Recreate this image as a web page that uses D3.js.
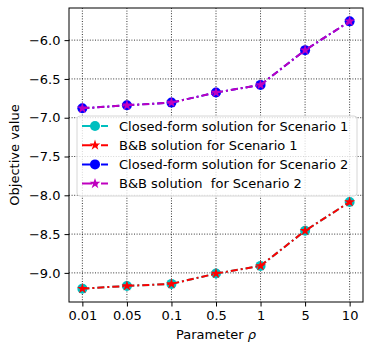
<!DOCTYPE html>
<html lang="en">
<head>
<meta charset="UTF-8">
<title>Objective value vs parameter</title>
<script src="https://d3js.org/d3.v7.min.js"></script>
<style>
  body { margin: 0; background: #fff; }
  text { font-family: "DejaVu Sans", sans-serif; white-space: pre; }
</style>
</head>
<body>
<div id="chart"></div>
<script>
// data
var rhoLabels = ["0.01", "0.05", "0.1", "0.5", "1", "5", "10"];
var scenario1 = [-9.203, -9.168, -9.142, -9.009, -8.91, -8.457, -8.086];
var scenario2 = [-6.879, -6.84, -6.805, -6.676, -6.577, -6.129, -5.758];
var yTicks = [-9.0, -8.5, -8.0, -7.5, -7.0, -6.5, -6.0];

var series = [
  {name: "Closed-form solution for Scenario 1", values: scenario1, color: "#00bfbf", marker: "circle"},
  {name: "B&B solution for Scenario 1", values: scenario1, color: "#ff0000", marker: "star"},
  {name: "Closed-form solution for Scenario 2", values: scenario2, color: "#0000ff", marker: "circle"},
  {name: "B&B solution  for Scenario 2", values: scenario2, color: "#bf00bf", marker: "star"}
];

var width = 373, height = 354;
var plotL = 69, plotR = 363, plotT = 8, plotB = 302;

var svg = d3.select("#chart").append("svg")
    .attr("width", width)
    .attr("height", height);

var x = d3.scaleLinear().domain([-0.3, 6.3]).range([plotL, plotR]);
var allVals = scenario1.concat(scenario2);
var ymin = d3.min(allVals), ymax = d3.max(allVals), pad = (ymax - ymin) * 0.05;
var y = d3.scaleLinear().domain([ymin - pad, ymax + pad]).range([plotB, plotT]);

// grid
var grid = svg.append("g").attr("stroke", "#000").attr("stroke-width", 0.8)
    .attr("stroke-dasharray", "1,1.6");
grid.selectAll("line.v").data(rhoLabels).enter().append("line")
    .attr("x1", function(d, i) { return x(i); })
    .attr("x2", function(d, i) { return x(i); })
    .attr("y1", plotT).attr("y2", plotB);
grid.selectAll("line.h").data(yTicks).enter().append("line")
    .attr("y1", function(d) { return y(d); })
    .attr("y2", function(d) { return y(d); })
    .attr("x1", plotL).attr("x2", plotR);

// axes
var xAxis = d3.axisBottom(x).tickValues(d3.range(rhoLabels.length))
    .tickFormat(function(i) { return rhoLabels[i]; })
    .tickSize(4.5).tickPadding(4);
var yAxis = d3.axisLeft(y).tickValues(yTicks)
    .tickFormat(function(d) { return d3.format(".1f")(d).replace("-", "\u2212"); })
    .tickSize(4.5).tickPadding(4);

var gx = svg.append("g").attr("transform", "translate(0," + plotB + ")").call(xAxis);
var gy = svg.append("g").attr("transform", "translate(" + plotL + ",0)").call(yAxis);
[gx, gy].forEach(function(g) {
  g.select(".domain").remove();
  g.selectAll(".tick line").attr("stroke", "#000").attr("stroke-width", 1);
  g.selectAll(".tick text").attr("font-size", 13).attr("fill", "#000")
    .attr("font-family", "DejaVu Sans, sans-serif");
});

// lines and markers
var line = d3.line()
    .x(function(d, i) { return x(i); })
    .y(function(d) { return y(d); });

var starSym = d3.symbol().type(d3.symbolStar).size(36);

function drawMarker(g, s, cx, cy) {
  if (s.marker === "circle") {
    g.append("circle").attr("cx", cx).attr("cy", cy).attr("r", 5)
      .attr("fill", s.color);
  } else {
    g.append("path").attr("d", starSym())
      .attr("transform", "translate(" + cx + "," + cy + ")")
      .attr("fill", s.color);
  }
}

series.forEach(function(s) {
  var g = svg.append("g");
  g.append("path").datum(s.values)
    .attr("d", line)
    .attr("fill", "none")
    .attr("stroke", s.color)
    .attr("stroke-width", 2)
    .attr("stroke-dasharray", "7,3,2,3");
  s.values.forEach(function(v, i) { drawMarker(g, s, x(i), y(v)); });
});

// frame
svg.append("rect").attr("x", plotL).attr("y", plotT)
  .attr("width", plotR - plotL).attr("height", plotB - plotT)
  .attr("fill", "none").attr("stroke", "#000").attr("stroke-width", 1);

// legend
var lg = svg.append("g");
lg.append("rect").attr("x", 77).attr("y", 116).attr("width", 280).attr("height", 80)
  .attr("rx", 3).attr("fill", "#fff").attr("fill-opacity", 0.8)
  .attr("stroke", "#d6d6d6").attr("stroke-width", 1);
series.forEach(function(s, i) {
  var cy = 126 + i * 19.2;
  var row = lg.append("g");
  row.append("line").attr("x1", 82).attr("x2", 108).attr("y1", cy).attr("y2", cy)
    .attr("stroke", s.color).attr("stroke-width", 2).attr("stroke-dasharray", "10,3,3,3");
  drawMarker(row, s, 95, cy);
  row.append("text").attr("x", 119).attr("y", cy).attr("dy", "0.35em")
    .attr("font-size", 13).attr("fill", "#000").text(s.name);
});

// axis labels
svg.append("text").attr("transform", "translate(19," + ((plotT + plotB) / 2) + ") rotate(-90)")
  .attr("text-anchor", "middle").attr("font-size", 13).text("Objective value");
var xl = svg.append("text").attr("x", (plotL + plotR) / 2).attr("y", 339)
  .attr("text-anchor", "middle").attr("font-size", 13);
xl.append("tspan").text("Parameter ");
xl.append("tspan").attr("font-style", "italic").text("\u03c1");
</script>
</body>
</html>
